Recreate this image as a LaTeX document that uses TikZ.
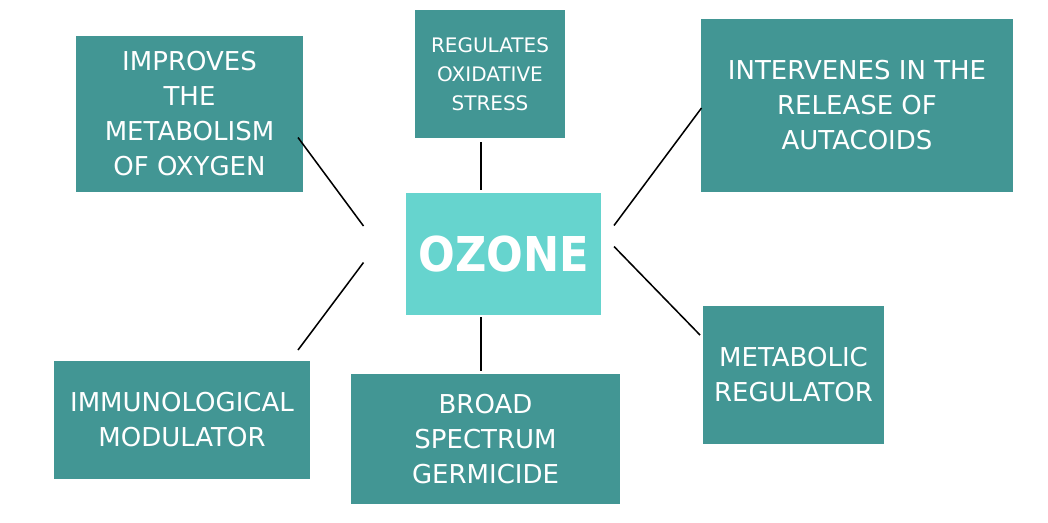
\documentclass[tikz,border=0pt]{standalone}
\usepackage{fontspec}
\setmainfont{DejaVu Sans}
\newfontfamily\ozonefont{DejaVu Sans}[FakeStretch=0.9]
\definecolor{teal box}{RGB}{66,150,148}
\definecolor{ozone box}{RGB}{102,212,206}

\begin{document}
\begin{tikzpicture}[x=0.75pt,y=0.75pt,yscale=-1,xscale=1,
  effect/.style={fill=teal box,text=white,align=center,inner sep=0pt,
    font=\fontsize{19.5}{26.25}\selectfont},
  link/.style={line width=1.15pt,color=black}]
\useasboundingbox (0,0) rectangle (1048,522);

%Shape: Centre Box [id:ozone]
\node [fill=ozone box,text=white,inner sep=0pt,minimum width=146.25pt,minimum height=91.5pt,
  font=\ozonefont\bfseries\fontsize{36}{40}\selectfont] (ozone) at (503.5,254) {OZONE};

%Shape: Effect Boxes
\node [effect,minimum width=170.25pt,minimum height=117pt] (improves) at (189.5,114) {IMPROVES\\THE\\METABOLISM\\OF OXYGEN};
\node [effect,minimum width=112.5pt,minimum height=96pt,font=\fontsize{15}{21.75}\selectfont] (regulates) at (490,74) {REGULATES\\OXIDATIVE\\STRESS};
\node [effect,minimum width=234pt,minimum height=129.75pt] (intervenes) at (857,105) {INTERVENES IN THE\\RELEASE OF\\AUTACOIDS};
\node [effect,minimum width=192pt,minimum height=88.5pt] (immuno) at (182,420) {IMMUNOLOGICAL\\MODULATOR};
\node [effect,minimum width=201.75pt,minimum height=97.5pt] (broad) at (485.5,439) {BROAD\\SPECTRUM\\GERMICIDE};
\node [effect,minimum width=135.75pt,minimum height=103.5pt] (metabolic) at (793.5,375) {METABOLIC\\REGULATOR};

%Straight Lines: free ends
\coordinate (improvesEnd) at (298,137.5);
\coordinate (improvesTip) at (363.5,226);
\coordinate (immunoTip) at (363.5,262.5);
\coordinate (immunoEnd) at (298,350);
\coordinate (regulatesEnd) at (481,142);
\coordinate (regulatesTip) at (481,190);
\coordinate (broadTip) at (481,317);
\coordinate (broadEnd) at (481,371);
\coordinate (intervenesTip) at (614,225.5);
\coordinate (intervenesEnd) at (701.5,108);
\coordinate (metabolicTip) at (614,246.5);
\coordinate (metabolicEnd) at (700,335);

%Straight Lines
\draw [link] (improvesEnd) -- (improvesTip);
\draw [link] (immunoTip) -- (immunoEnd);
\draw [link] (regulatesEnd) -- (regulatesTip);
\draw [link] (broadTip) -- (broadEnd);
\draw [link] (intervenesTip) -- (intervenesEnd);
\draw [link] (metabolicTip) -- (metabolicEnd);

\end{tikzpicture}
\end{document}
